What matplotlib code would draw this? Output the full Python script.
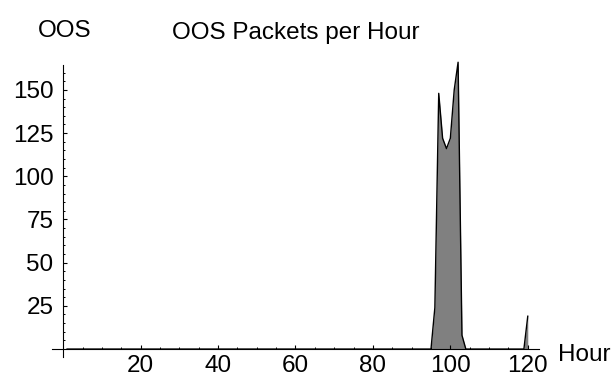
import matplotlib
matplotlib.use("Agg")
import matplotlib.pyplot as plt
from matplotlib.ticker import MultipleLocator

plt.rcParams['font.family'] = ['Liberation Sans', 'DejaVu Sans']

hours = list(range(1, 121))
oos_packets = [
    0, 0, 0, 0, 0, 0, 0, 0, 0, 0,
    0, 0, 0, 0, 0, 0, 0, 0, 0, 0,
    0, 0, 0, 0, 0, 0, 0, 0, 0, 0,
    0, 0, 0, 0, 0, 0, 0, 0, 0, 0,
    0, 0, 0, 0, 0, 0, 0, 0, 0, 0,
    0, 0, 0, 0, 0, 0, 0, 0, 0, 0,
    0, 0, 0, 0, 0, 0, 0, 0, 0, 0,
    0, 0, 0, 0, 0, 0, 0, 0, 0, 0,
    0, 0, 0, 0, 0, 0, 0, 0, 0, 0,
    0, 0, 0, 0, 0, 24, 148, 122, 116, 122,
    150, 166, 8, 0, 0, 0, 0, 0, 0, 0,
    0, 0, 0, 0, 0, 0, 0, 0, 0, 19,
]
x_ticks = [20, 40, 60, 80, 100, 120]
y_ticks = [25, 50, 75, 100, 125, 150]

fig = plt.figure(figsize=(6.15, 3.79), dpi=100)
ax = fig.add_axes([52/615, 22/379, (539-52)/615, (357-65)/379])

ax.fill_between(hours, oos_packets, 0, color='#808080', linewidth=0, clip_on=False)
ax.plot(hours, oos_packets, color='black', linewidth=1.0, clip_on=False)

ax.set_xlim(-2.9, 122.9)
ax.set_ylim(-4.6, 164.4)

for s in ['top', 'right']:
    ax.spines[s].set_visible(False)
ax.spines['left'].set_position(('data', 0))
ax.spines['bottom'].set_position(('data', 0))
ax.spines['left'].set_linewidth(0.8)
ax.spines['bottom'].set_linewidth(0.8)

fs = 17.5
ax.set_xticks(x_ticks)
ax.set_yticks(y_ticks)
ax.set_xticklabels([str(v) for v in x_ticks])
ax.set_yticklabels([str(v) for v in y_ticks])
ax.xaxis.set_minor_locator(MultipleLocator(5))
ax.yaxis.set_minor_locator(MultipleLocator(5))
ax.tick_params(which='major', direction='in', length=3, width=0.8, labelsize=fs, colors='black')
ax.tick_params(which='minor', direction='in', length=1.6, width=0.7)
ax.tick_params(axis='x', which='major', pad=4)
ax.tick_params(axis='y', which='major', pad=7)

fig.text(65/615, 1 - 31/379, 'OOS', ha='center', va='center', fontsize=fs)
fig.text(296/615, 1 - 33/379, 'OOS Packets per Hour', ha='center', va='center', fontsize=fs)
fig.text(584/615, 1 - 355/379, 'Hour', ha='center', va='center', fontsize=fs)

fig.savefig('out.png', dpi=100)
